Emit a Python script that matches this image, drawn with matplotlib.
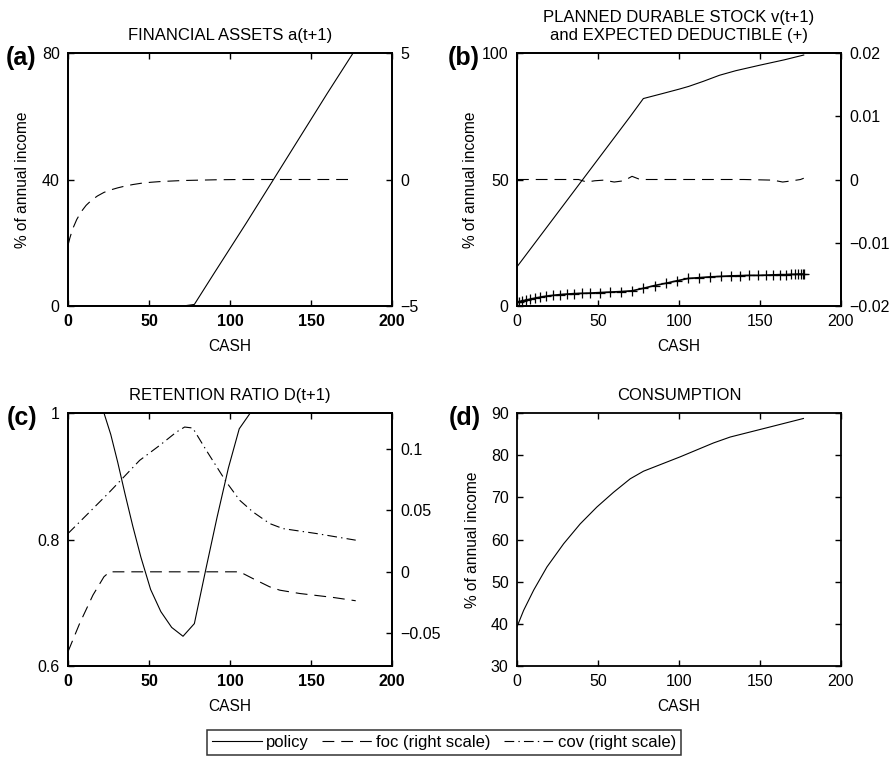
import matplotlib
matplotlib.use("Agg")
import matplotlib.pyplot as plt
from matplotlib.lines import Line2D
from matplotlib.ticker import FuncFormatter

plt.rcParams['font.family'] = ['Liberation Sans', 'DejaVu Sans']
plt.rcParams['font.size'] = 11
plt.rcParams['lines.scale_dashes'] = False
plt.rcParams['axes.linewidth'] = 1.3

# ---------------- data ----------------
# (a) financial assets
a_pol_x = [0, 20, 40, 60, 71, 78, 90, 100, 110, 126, 140, 150, 160, 177]
a_pol_y = [0, 0, 0, 0, 0, 0.5, 10.2, 18.2, 26.2, 39.3, 50.8, 59.0, 67.2, 80.8]
a_foc_x = [0, 1.2, 2.9, 5.4, 8.2, 11.2, 14.5, 18.2, 22.2, 26.4, 30.7, 35.2, 40, 45,
           51, 57.3, 64, 71, 78, 85, 92, 99, 106, 112.5, 125, 150, 177]
a_foc_y = [-2.6, -2.3, -1.95, -1.58, -1.27, -1.02, -0.82, -0.65, -0.51, -0.41, -0.33,
           -0.26, -0.2, -0.15, -0.11, -0.08, -0.06, -0.04, -0.03, -0.02, -0.01,
           -0.005, 0, 0, 0, 0, 0]

# (b) planned durable stock and expected deductible
b_pol_x = [0, 10, 20, 30, 40, 50, 60, 70, 78, 90, 100, 106, 115, 125, 135, 150, 165, 177]
b_pol_y = [15.5, 24, 32.5, 41, 49.5, 58, 66.5, 75, 82, 84, 85.7, 86.8, 88.8, 91.2,
           93.0, 95.2, 97.3, 99.2]
b_foc_x = [0, 20, 38, 43, 48, 53.5, 60, 66, 71, 76, 100, 140, 158, 164, 170, 175, 177]
b_foc_y = [0, 0, 0, -0.0004, -0.0002, -0.0001, -0.0004, -0.0002, 0.0005, 0, 0,
           0, -0.0001, -0.0004, -0.0002, 0, 0.0002]
b_ded_x = [0, 1.2, 2.9, 5.4, 8.2, 11.2, 14.5, 18.2, 22.2, 26.4, 30.7, 35.2, 40, 45,
           51, 57.3, 64, 71, 78, 85, 92, 99, 105.7, 112.5, 119, 125.7, 132, 137.7,
           143.4, 149, 153.7, 158.2, 162.3, 166, 168.9, 171.4, 173.5, 175.1, 176.4, 177.2]
b_ded_y = [1.5, 1.7, 2.0, 2.3, 2.7, 3.1, 3.5, 3.9, 4.2, 4.5, 4.7, 4.9, 5.0, 5.1,
           5.3, 5.5, 5.7, 6.0, 7.0, 8.1, 9.0, 10.0, 10.9, 11.2, 11.5, 11.7, 11.9,
           12.0, 12.1, 12.1, 12.2, 12.3, 12.4, 12.4, 12.5, 12.5, 12.6, 12.6, 12.6, 12.6]

# (c) retention ratio
c_pol_x = [0, 5.4, 11.2, 18.2, 22.2, 26.4, 30.7, 35.2, 40, 45, 51, 57.3, 64, 71, 78,
           85, 92, 99, 105.7, 112.5, 125, 150, 177]
c_pol_y = [1, 1, 1, 1, 1.0, 0.966, 0.922, 0.872, 0.821, 0.772, 0.721, 0.686, 0.661,
           0.647, 0.667, 0.752, 0.835, 0.913, 0.975, 1.0, 1, 1, 1]
c_foc_x = [0, 7.2, 15.4, 22.2, 25.7, 50, 80, 106, 114, 124.5, 130.7, 143, 163.6, 177.6]
c_foc_y = [-0.0649, -0.0419, -0.0189, -0.0040, 0, 0, 0, 0, -0.0054, -0.0122,
           -0.0149, -0.0176, -0.0208, -0.0235]
c_cov_x = [0, 11.3, 25.7, 44.2, 56.6, 66.9, 72, 77, 85.4, 97.7, 106, 114.2, 124.5,
           132.7, 153.3, 177.6]
c_cov_y = [0.0311, 0.0459, 0.0649, 0.0905, 0.1027, 0.1135, 0.1176, 0.1168, 0.0986,
           0.073, 0.0581, 0.0486, 0.0392, 0.0351, 0.0311, 0.0257]

# (d) consumption
d_x = [0, 4.1, 10.3, 18.5, 28.8, 39, 49.3, 59.6, 69.9, 78.1, 100.7, 121.3, 131.6, 152.2, 176.8]
d_y = [39.3, 43.2, 48.0, 53.5, 59.0, 63.7, 67.7, 71.2, 74.4, 76.2, 79.6, 82.9, 84.3, 86.3, 88.7]

titles = ["FINANCIAL ASSETS a(t+1)",
          "PLANNED DURABLE STOCK v(t+1)\nand EXPECTED DEDUCTIBLE (+)",
          "RETENTION RATIO D(t+1)",
          "CONSUMPTION"]
letters = ["(a)", "(b)", "(c)", "(d)"]
xticks = [0, 50, 100, 150, 200]
legend_labels = ["policy", "foc (right scale)", "cov (right scale)"]

# ---------------- styles ----------------
LW = 0.8
DASH = (0, (8.5, 5))
DASHDOT = (0, (7, 3, 1, 3))
TICK_FS = 11.5
TITLE_FS = 12
LABEL_FS = 11.2

W, H = 894, 757


def pos(l, r, t, b):
    return [l / W, (H - b) / H, (r - l) / W, (b - t) / H]


def gfmt(v, p):
    s = "%g" % v
    return s.replace("-", "\u2212")


fig = plt.figure(figsize=(W / 100, H / 100), dpi=100)

boxes = [(68, 392, 53, 306), (517, 841, 53, 306), (68, 392, 413, 666), (517, 841, 413, 666)]
axs = [fig.add_axes(pos(*bx)) for bx in boxes]

for i, ax in enumerate(axs):
    ax.set_xlim(0, 200)
    ax.set_xticks(xticks)
    ax.tick_params(direction='in', top=True, right=True, length=4, width=1.0, pad=6,
                   labelsize=TICK_FS)
    ax.yaxis.set_major_formatter(FuncFormatter(gfmt))
    ax.set_xlabel("CASH", fontsize=LABEL_FS)
    ax.xaxis.set_label_coords(0.5, -0.13)
    ax.set_title(titles[i], fontsize=TITLE_FS, pad=9.5)
    if i in (0, 2):
        for lab in ax.get_xticklabels():
            lab.set_fontweight('bold')


def twin(ax, lo, hi, ticks):
    ax2 = ax.twinx()
    ax2.set_ylim(lo, hi)
    ax2.set_yticks(ticks)
    ax2.yaxis.set_major_formatter(FuncFormatter(gfmt))
    ax2.tick_params(direction='in', length=4, width=1.0, pad=6, labelsize=TICK_FS)
    return ax2


# panel (a)
ax = axs[0]
ax.plot(a_pol_x, a_pol_y, color='black', lw=LW)
ax.set_ylim(0, 80)
ax.set_yticks([0, 40, 80])
ax.set_ylabel("% of annual income", fontsize=LABEL_FS)
ax.yaxis.set_label_coords(-0.116, 0.5)
ax2 = twin(ax, -5, 5, [-5, 0, 5])
ax2.plot(a_foc_x, a_foc_y, color='black', lw=LW, linestyle=DASH)

# panel (b)
ax = axs[1]
ax.plot(b_pol_x, b_pol_y, color='black', lw=LW)
ax.plot(b_ded_x, b_ded_y, color='black', lw=1.2, marker='+', markersize=7.5, mew=0.9)
ax.set_ylim(0, 100)
ax.set_yticks([0, 50, 100])
ax.set_ylabel("% of annual income", fontsize=LABEL_FS)
ax.yaxis.set_label_coords(-0.119, 0.5)
ax2 = twin(ax, -0.02, 0.02, [-0.02, -0.01, 0, 0.01, 0.02])
ax2.plot(b_foc_x, b_foc_y, color='black', lw=LW, linestyle=DASH)

# panel (c)
ax = axs[2]
ax.plot(c_pol_x, c_pol_y, color='black', lw=LW)
ax.set_ylim(0.6, 1.0)
ax.set_yticks([0.6, 0.8, 1.0])
ax2 = twin(ax, -0.0765, 0.129, [-0.05, 0, 0.05, 0.1])
ax2.plot(c_foc_x, c_foc_y, color='black', lw=LW, linestyle=DASH)
ax2.plot(c_cov_x, c_cov_y, color='black', lw=LW, linestyle=DASHDOT)

# panel (d)
ax = axs[3]
ax.plot(d_x, d_y, color='black', lw=LW)
ax.set_ylim(30, 90)
ax.set_yticks([30, 40, 50, 60, 70, 80, 90])
ax.set_ylabel("% of annual income", fontsize=LABEL_FS)
ax.yaxis.set_label_coords(-0.113, 0.5)

# panel letters
letter_pos = [(6, 58), (448, 58), (7, 418), (449, 418)]
for (lx, ly), t in zip(letter_pos, letters):
    fig.text(lx / W, (H - ly) / H, t, fontsize=18, fontweight='bold',
             ha='left', va='center')

# legend
handles = [Line2D([], [], color='black', lw=LW),
           Line2D([], [], color='black', lw=LW, linestyle=DASH),
           Line2D([], [], color='black', lw=LW, linestyle=DASHDOT)]
leg = fig.legend(handles, legend_labels, loc='center', ncol=3,
                 bbox_to_anchor=(444 / W, (H - 742.5) / H), frameon=True,
                 fancybox=False, edgecolor='black', fontsize=12,
                 handlelength=3.0, handletextpad=0.25, columnspacing=0.8,
                 borderpad=0.3, borderaxespad=0)
leg.get_frame().set_linewidth(1.1)

fig.savefig("out.png", dpi=100, facecolor='white')
